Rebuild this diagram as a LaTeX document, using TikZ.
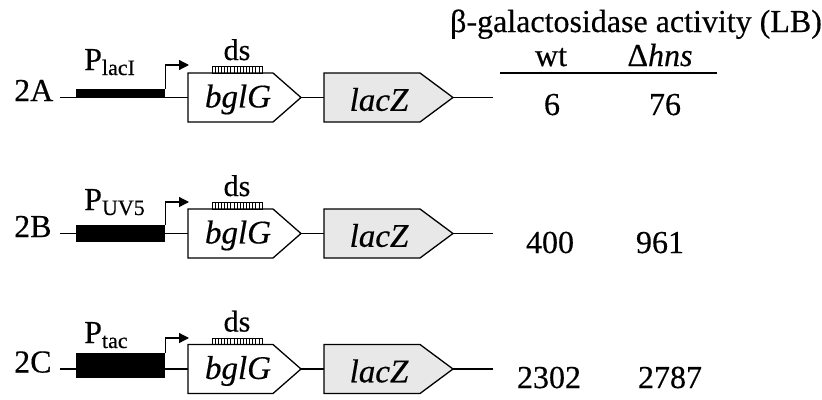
\documentclass[tikz,border=0pt]{standalone}
\usepackage{fontspec}
\setmainfont{Liberation Serif}[FakeBold=0.4, ItalicFeatures={FakeBold=0.4}]
\usetikzlibrary{arrows.meta}
\definecolor{genegray}{HTML}{E8E8E8}
\begin{document}
\begin{tikzpicture}[x=1pt,y=-1pt,
  lw/.style={line width=1.3pt},
  backbone/.style={lw},
  genebox/.style={draw, lw, line join=miter},
  promoterbar/.style={fill=black, draw=none, inner sep=0pt, minimum width=89pt, anchor=north west},
  tss/.style={lw, -{Triangle[length=10pt,width=10pt]}},
  big/.style={font=\fontsize{32}{38}\selectfont, inner sep=0pt},
  genetext/.style={font=\fontsize{33}{38}\selectfont\itshape, inner sep=0pt},
  dstext/.style={font=\fontsize{30}{36}\selectfont, inner sep=0pt, anchor=base},
  plabel/.style={font=\fontsize{32}{38}\selectfont, inner sep=0pt, anchor=base west},
  ticks/.style={line width=0.6pt},
  numtext/.style={font=\fontsize{32}{38}\selectfont, inner sep=0pt, anchor=base}
]
\useasboundingbox (0,0) rectangle (822,399);

% header
\node[big, anchor=base] (title) at (636,32) {β-galactosidase activity (LB)};
\node[big, anchor=base] (wt) at (551,66) {wt};
\node[big, anchor=base] (hns) at (660,66) {Δ\textit{hns}};
\coordinate (ulL) at (500,73);
\coordinate (ulR) at (717,73);
\draw[lw] (ulL) -- (ulR);

\foreach \r/\Y/\bt/\bh/\ay/\pb/\sub/\na/\nax/\nb/\nbx/\nby in {
  A/97.5/89/9/65/70/lacI/6/552/76/665/115,
  B/233.5/225/17/202/210/UV5/400/550/961/660/253,
  C/369/353/25/338/343/tac/2302/549/2787/670/388}{
  % row label
  \node[big, anchor=base west] (lab\r) at (14,\Y+3.5) {2\r};
  % backbone coordinates
  \coordinate (s\r) at (60,\Y);
  \coordinate (e\r) at (493,\Y);
  \coordinate (gw\r) at (188,\Y);
  \coordinate (ge\r) at (301,\Y);
  \coordinate (zw\r) at (324,\Y);
  \coordinate (ze\r) at (453,\Y);
  \draw[backbone] (s\r) -- (gw\r);
  \draw[backbone] (ge\r) -- (zw\r);
  \draw[backbone] (ze\r) -- (e\r);
  % promoter
  \node[promoterbar, minimum height=\bh pt] (p\r) at (76,\bt) {};
  \coordinate (a\r) at (189,\ay);
  \draw[tss] (p\r.north east) |- (a\r);
  \node[plabel] (pl\r) at (84,\pb) {P{\fontsize{22}{26}\selectfont\raisebox{-5pt}{\sub}}};
  % bglG
  \draw[genebox, fill=white] (188,\Y-24.5) -- (273,\Y-24.5) -- (ge\r) -- (273,\Y+24.5) -- (188,\Y+24.5) -- cycle;
  \node[genetext] (g\r) at (238,\Y+2) {bglG};
  % ds
  \draw[lw, line width=0.9pt] (212,\Y-31) rectangle (262,\Y-24.5);
  \foreach \k in {1,...,15}{
    \draw[ticks] (212+\k*3.125,\Y-31) -- (212+\k*3.125,\Y-24.5);
  }
  \node[dstext] (ds\r) at (237,\Y-37.5) {ds};
  % lacZ
  \draw[genebox, fill=genegray] (324,\Y-24.5) -- (420,\Y-24.5) -- (ze\r) -- (420,\Y+24.5) -- (324,\Y+24.5) -- cycle;
  \node[genetext] (z\r) at (379,\Y+2) {lacZ};
  % numbers
  \node[numtext] (n1\r) at (\nax,\nby) {\na};
  \node[numtext] (n2\r) at (\nbx,\nby) {\nb};
}
\end{tikzpicture}
\end{document}
